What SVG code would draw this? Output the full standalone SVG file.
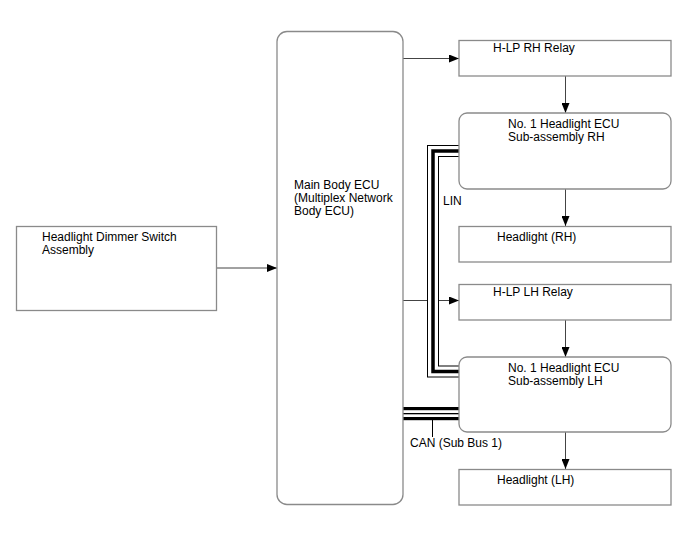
<svg xmlns="http://www.w3.org/2000/svg" width="688" height="560" viewBox="0 0 688 560">
<defs>
<marker id="ah" viewBox="0 0 10 8" refX="10" refY="4" markerWidth="10" markerHeight="8" markerUnits="userSpaceOnUse" orient="auto">
<path d="M0,0 L10,4 L0,8 Z" fill="#000"/>
</marker>
<style>
.box{fill:#fff;stroke:#8a8a8a;stroke-width:1.3}
.t{font-family:"Liberation Sans",Arial,sans-serif;font-size:12px;fill:#000}
.c{fill:none;stroke:#444;stroke-width:1}
</style>
</defs>
<rect width="688" height="560" fill="#fff"/>
<g id="connectors">
<line class="c" x1="217" y1="268" x2="277" y2="268" marker-end="url(#ah)"/>
<line class="c" x1="403" y1="58.5" x2="459" y2="58.5" marker-end="url(#ah)"/>
<line class="c" x1="403" y1="300.5" x2="459" y2="300.5" marker-end="url(#ah)"/>
<line class="c" x1="565.5" y1="76" x2="565.5" y2="113" marker-end="url(#ah)"/>
<line class="c" x1="565.5" y1="189" x2="565.5" y2="226" marker-end="url(#ah)"/>
<line class="c" x1="565.5" y1="320" x2="565.5" y2="357" marker-end="url(#ah)"/>
<line class="c" x1="565.5" y1="432" x2="565.5" y2="469" marker-end="url(#ah)"/>
<g id="lin">
<path d="M459,151 H433 V371.5 H459" fill="none" stroke="#000" stroke-width="12"/>
<path d="M459,151 H433 V371.5 H459" fill="none" stroke="#fff" stroke-width="10"/>
<path d="M459,151 H433 V371.5 H459" fill="none" stroke="#000" stroke-width="3.5"/>
</g>
<g id="can">
<rect x="403" y="407" width="56" height="3.2" fill="#000"/>
<rect x="403" y="413" width="56" height="1.3" fill="#000"/>
<rect x="403" y="417" width="56" height="3.2" fill="#000"/>
<line x1="432.5" y1="420" x2="432.5" y2="437" stroke="#000" stroke-width="1"/>
</g>
</g>
<g id="dimmer">
<rect class="box" x="16.5" y="226.5" width="200" height="84"/>
<text class="t" x="42" y="241">Headlight Dimmer Switch</text>
<text class="t" x="42" y="254">Assembly</text>
</g>
<g id="main-ecu">
<rect class="box" x="277" y="31.5" width="126" height="473" rx="10"/>
<text class="t" x="294" y="188.5">Main Body ECU</text>
<text class="t" x="294" y="201.5">(Multiplex Network</text>
<text class="t" x="294" y="214.5">Body ECU)</text>
</g>
<g id="rh-relay">
<rect class="box" x="459" y="40.5" width="212" height="35.5"/>
<text class="t" x="493" y="51.5">H-LP RH Relay</text>
</g>
<g id="rh-ecu">
<rect class="box" x="459" y="113" width="212" height="76" rx="8"/>
<text class="t" x="508" y="127.5">No. 1 Headlight ECU</text>
<text class="t" x="508" y="140.5">Sub-assembly RH</text>
</g>
<g id="rh-headlight">
<rect class="box" x="459" y="226.5" width="212" height="35.5"/>
<text class="t" x="497" y="240.5">Headlight (RH)</text>
</g>
<g id="lh-relay">
<rect class="box" x="459" y="284.5" width="212" height="35.5"/>
<text class="t" x="493" y="295.5">H-LP LH Relay</text>
</g>
<g id="lh-ecu">
<rect class="box" x="459" y="357" width="212" height="75" rx="8"/>
<text class="t" x="508" y="371.5">No. 1 Headlight ECU</text>
<text class="t" x="508" y="384.5">Sub-assembly LH</text>
</g>
<g id="lh-headlight">
<rect class="box" x="459" y="469.5" width="212" height="35.5"/>
<text class="t" x="497" y="483.5">Headlight (LH)</text>
</g>
<text class="t" x="443" y="204.5">LIN</text>
<text class="t" x="410" y="446.5">CAN (Sub Bus 1)</text>
</svg>
